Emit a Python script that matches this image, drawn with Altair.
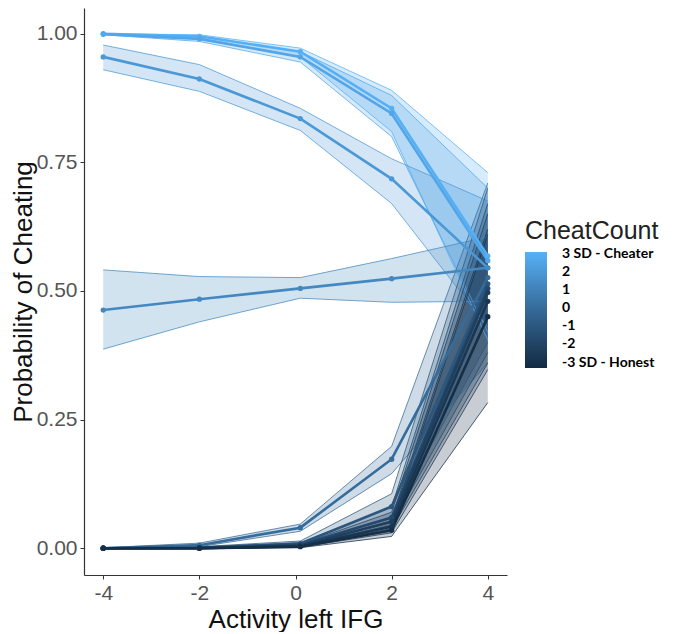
import altair as alt
import pandas as pd

# x positions (Activity left IFG)
x_vals = [-4, -2, 0.1, 2, 4]

# CheatCount value of each series (for colour)
series_names = ["s1", "s2", "s3", "s4", "s5", "s6", "s7", "s8", "s9", "s10"]
cheat_vals = [3.0, 2.6, 2.0, 1.3, 0.0, -1.0, -1.7, -2.2, -2.7, -3.1]

means = [
    [1.000, 0.995, 0.965, 0.855, 0.568],
    [0.999, 0.990, 0.955, 0.845, 0.559],
    [0.955, 0.912, 0.835, 0.718, 0.545],
    [0.463, 0.484, 0.505, 0.524, 0.545],
    [0.000, 0.006, 0.040, 0.173, 0.526],
    [0.000, 0.001, 0.009, 0.081, 0.514],
    [0.000, 0.001, 0.007, 0.060, 0.505],
    [0.000, 0.000, 0.005, 0.052, 0.497],
    [0.000, 0.000, 0.004, 0.042, 0.480],
    [0.000, 0.000, 0.003, 0.035, 0.450],
]
lowers = [
    [0.999, 0.992, 0.955, 0.810, 0.405],
    [0.998, 0.985, 0.945, 0.800, 0.420],
    [0.930, 0.888, 0.812, 0.670, 0.430],
    [0.387, 0.440, 0.486, 0.478, 0.480],
    [0.000, 0.003, 0.033, 0.145, 0.360],
    [0.000, 0.000, 0.005, 0.060, 0.400],
    [0.000, 0.000, 0.004, 0.045, 0.380],
    [0.000, 0.000, 0.003, 0.038, 0.360],
    [0.000, 0.000, 0.002, 0.030, 0.347],
    [0.000, 0.000, 0.001, 0.023, 0.283],
]
uppers = [
    [1.000, 0.998, 0.972, 0.890, 0.730],
    [1.000, 0.995, 0.965, 0.880, 0.700],
    [0.978, 0.940, 0.855, 0.757, 0.675],
    [0.541, 0.528, 0.526, 0.563, 0.605],
    [0.001, 0.010, 0.047, 0.198, 0.710],
    [0.000, 0.003, 0.014, 0.106, 0.700],
    [0.000, 0.002, 0.011, 0.080, 0.670],
    [0.000, 0.001, 0.008, 0.070, 0.650],
    [0.000, 0.001, 0.007, 0.058, 0.620],
    [0.000, 0.001, 0.006, 0.050, 0.610],
]

legend_values = [3, 2, 1, 0, -1, -2, -3]

rows = []
for name, cv, m, lo, hi in zip(series_names, cheat_vals, means, lowers, uppers):
    for xv, mv, lv, hv in zip(x_vals, m, lo, hi):
        rows.append({"series": name, "cheat": cv, "x": xv, "p": mv, "lo": lv, "hi": hv})
df = pd.DataFrame(rows)

color_scale = alt.Scale(domain=[-3.3, 3.1], range=["#132B43", "#56B1F7"])

x_enc = alt.X("x:Q", scale=alt.Scale(domain=[-4.4, 4.4], nice=False, zero=False),
              axis=alt.Axis(values=[-4, -2, 0, 2, 4], labelExpr="replace(datum.label, '\u2212', '-')",
                            title="Activity left IFG", titlePadding=3))
y_axis = alt.Axis(values=[0, 0.25, 0.5, 0.75, 1.0], format=".2f", title="Probability of Cheating",
                  titlePadding=0)
y_scale = alt.Scale(domain=[-0.052, 1.05], nice=False, zero=False)

legend = alt.Legend(
    type="gradient", direction="vertical",
    title="CheatCount", values=legend_values, orient="none", legendX=441, legendY=211,
    labelExpr="datum.value == 3 ? '3 SD - Cheater' : (datum.value == -3 ? '-3 SD - Honest' : replace(datum.label, '\u2212', '-'))",
    gradientLength=116, gradientThickness=22, titlePadding=8, labelOffset=15,
    gradientStrokeWidth=0,
)

base = alt.Chart(df)

areas = base.mark_area(opacity=0.24).encode(
    x=x_enc,
    y=alt.Y("lo:Q", scale=y_scale, axis=y_axis),
    y2="hi:Q",
    color=alt.Color("cheat:Q", scale=color_scale, legend=None),
    detail="series:N",
)
edge_lo = base.mark_line(strokeWidth=1, opacity=0.75).encode(
    x="x:Q", y="lo:Q",
    color=alt.Color("cheat:Q", scale=color_scale, legend=None),
    detail="series:N",
)
edge_hi = base.mark_line(strokeWidth=1, opacity=0.75).encode(
    x="x:Q", y="hi:Q",
    color=alt.Color("cheat:Q", scale=color_scale, legend=None),
    detail="series:N",
)
lines = base.mark_line(strokeWidth=2.6).encode(
    x="x:Q", y="p:Q",
    color=alt.Color("cheat:Q", scale=color_scale, legend=legend),
    detail="series:N",
)
points = base.mark_circle(size=28, opacity=1).encode(
    x="x:Q", y="p:Q",
    color=alt.Color("cheat:Q", scale=color_scale, legend=None),
)

chart = alt.layer(areas, edge_lo, edge_hi, lines, points).resolve_legend(
    color="independent"
).properties(
    width=423, height=567,
    padding={"left": 2, "top": 0, "right": 5, "bottom": 0},
).configure_view(stroke=None).configure_axis(
    grid=False, domainColor="#333333", domainWidth=1.2, tickColor="#333333", tickSize=4,
    labelFont="Liberation Sans", labelFontSize=21, labelColor="#555555", labelPadding=3,
    titleFont="Liberation Sans", titleFontSize=26, titleFontWeight="normal", titleColor="#111111",
).configure_legend(
    titleFont="Liberation Sans", titleFontSize=25, titleFontWeight="normal", titleColor="#222222",
    labelFont="Lato", labelFontSize=14, labelFontWeight="bold", labelColor="#000000",
)

chart.save("out.html", embed_options={"renderer": "svg", "actions": False})
